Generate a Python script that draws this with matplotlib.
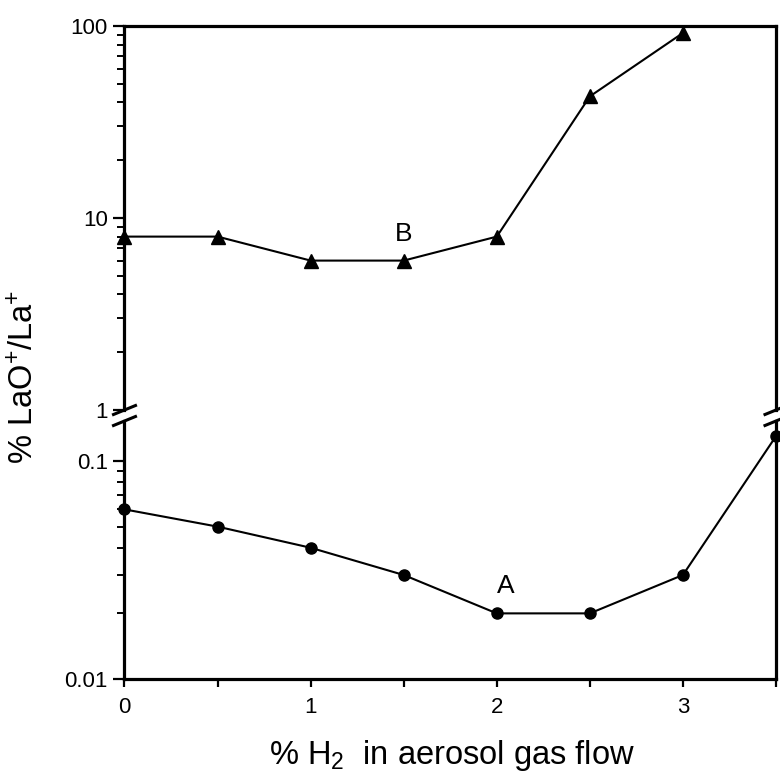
import matplotlib
matplotlib.use('Agg')
import matplotlib.pyplot as plt
from matplotlib.ticker import FixedLocator, FixedFormatter, LogLocator, MultipleLocator, NullFormatter
from matplotlib.lines import Line2D

# Data
h2_a = [0, 0.5, 1, 1.5, 2, 2.5, 3, 3.5]
ratio_a = [0.06, 0.05, 0.04, 0.03, 0.02, 0.02, 0.03, 0.13]
h2_b = [0, 0.5, 1, 1.5, 2, 2.5, 3]
ratio_b = [8, 8, 6, 6, 8, 43, 92]

upper_ticks = [1, 10, 100]
upper_labels = ['1', '10', '100']
lower_ticks = [0.01, 0.1]
lower_labels = ['0.01', '0.1']
x_ticks = [0, 1, 2, 3]
x_labels = ['0', '1', '2', '3']

plt.rcParams['font.family'] = ['Liberation Sans', 'DejaVu Sans']
plt.rcParams['mathtext.fontset'] = 'custom'
plt.rcParams['mathtext.rm'] = 'Liberation Sans'
plt.rcParams['mathtext.it'] = 'Liberation Sans:italic'

W, H = 780, 778
fig = plt.figure(figsize=(W / 100, H / 100), dpi=100)

def rect(x0, x1, ytop, ybot):
    # pixel box -> figure fraction
    return [x0 / W, 1 - ybot / H, (x1 - x0) / W, (ybot - ytop) / H]

x_left, x_right = 124.5, 776
up_top, up_bot = 26, 410
lo_top, lo_bot = 421, 679
lo_decade = 218  # px per decade in lower panel

ax_up = fig.add_axes(rect(x_left, x_right, up_top, up_bot))
ax_lo = fig.add_axes(rect(x_left, x_right, lo_top, lo_bot))

lw = 1.5
spine_w = 2.3

# upper panel (B)
ax_up.plot(h2_b, ratio_b, color='black', lw=lw, marker='^', ms=10, clip_on=False, zorder=5)
ax_up.set_yscale('log')
ax_up.set_ylim(1, 100)
ax_up.set_xlim(0, 3.5)
ax_up.yaxis.set_major_locator(FixedLocator(upper_ticks))
ax_up.yaxis.set_major_formatter(FixedFormatter(upper_labels))
ax_up.yaxis.set_minor_locator(LogLocator(base=10, subs=range(2, 10)))
ax_up.yaxis.set_minor_formatter(NullFormatter())
ax_up.spines['bottom'].set_visible(False)
ax_up.tick_params(axis='x', which='both', bottom=False, labelbottom=False)
ax_up.text(1.5, 8.3, 'B', fontsize=19, ha='center', va='center')

# lower panel (A)
ax_lo.plot(h2_a, ratio_a, color='black', lw=lw, marker='o', ms=8, clip_on=False, zorder=5)
ax_lo.set_yscale('log')
ax_lo.set_ylim(0.01, 0.01 * 10 ** ((lo_bot - lo_top) / lo_decade))
ax_lo.set_xlim(0, 3.5)
ax_lo.yaxis.set_major_locator(FixedLocator(lower_ticks))
ax_lo.yaxis.set_major_formatter(FixedFormatter(lower_labels))
ax_lo.yaxis.set_minor_locator(LogLocator(base=10, subs=range(2, 10)))
ax_lo.yaxis.set_minor_formatter(NullFormatter())
ax_lo.xaxis.set_major_locator(FixedLocator(x_ticks))
ax_lo.xaxis.set_major_formatter(FixedFormatter(x_labels))
ax_lo.xaxis.set_minor_locator(MultipleLocator(0.5))
ax_lo.spines['top'].set_visible(False)
ax_lo.text(2.05, 0.0268, 'A', fontsize=19, ha='center', va='center')

for ax in (ax_up, ax_lo):
    for s in ax.spines.values():
        s.set_linewidth(spine_w)
    ax.tick_params(axis='y', which='major', direction='out', length=8, width=1.6,
                   labelsize=16, pad=4, right=False)
    ax.tick_params(axis='y', which='minor', direction='out', length=5, width=1.4, right=False)
ax_lo.tick_params(axis='x', which='both', direction='out', length=6, width=1.6,
                  labelsize=16, pad=7, top=False)

# axis break marks
for xc in (x_left, x_right):
    for yc in (up_bot, lo_top):
        fig.add_artist(Line2D([(xc - 11) / W, (xc + 11) / W],
                              [1 - (yc + 4.5) / H, 1 - (yc - 4.5) / H],
                              color='black', lw=2.2))

fig.text(25 / W, 1 - 377 / H, r'% LaO$^{+}$/La$^{+}$', rotation=90,
         fontsize=23.5, ha='center', va='center')
fig.text(452 / W, 1 - 764 / H, r'% H$_2$  in aerosol gas flow',
         fontsize=23.5, ha='center', va='baseline')

fig.savefig('out.png', dpi=100)
